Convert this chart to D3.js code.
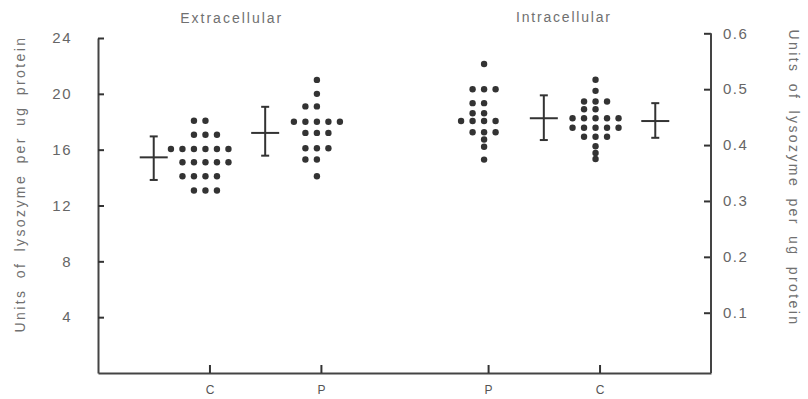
<!DOCTYPE html>
<html>
<head>
<meta charset="utf-8">
<script src="https://cdn.jsdelivr.net/npm/d3@7"></script>
<style>
  body { margin: 0; background: #fff; }
  svg { display: block; font-family: "Liberation Sans", Arial, sans-serif; }
  .lbl { fill: #707070; }
</style>
</head>
<body>
<svg width="808" height="399"></svg>
<script>
// categories along the x axis (position in group units)
var categories = ["C", "P", "P", "C"];
var catPos = [1, 2, 3.5, 4.5];
var panels = ["Extracellular", "Intracellular"];
var panelPos = [1.2, 4.18];

// left axis (extracellular) and right axis (intracellular) ticks
var leftTicks = [4, 8, 12, 16, 20, 24];
var rightTicks = [0.1, 0.2, 0.3, 0.4, 0.5, 0.6];

// individual points, one value per dot
var extraC = [18.07, 18.07, 17.07, 17.07, 17.07, 16.05, 16.05, 16.05, 16.05, 16.05, 16.05,
  15.1, 15.1, 15.1, 15.1, 15.1, 14.1, 14.1, 14.1, 14.1, 13.07, 13.07, 13.07];
var extraP = [21.0, 20.0, 19.1, 19.1, 18.0, 18.0, 18.0, 18.0, 18.0, 17.2, 17.2, 17.2,
  16.1, 16.1, 16.1, 15.3, 15.3, 14.1];
var intraP = [0.545, 0.50, 0.50, 0.50, 0.475, 0.475, 0.457, 0.457, 0.443, 0.443, 0.443, 0.443,
  0.423, 0.423, 0.423, 0.410, 0.397, 0.374];
var intraC = [0.517, 0.497, 0.478, 0.478, 0.478, 0.464, 0.464, 0.448, 0.448, 0.448, 0.448, 0.448,
  0.431, 0.431, 0.431, 0.431, 0.431, 0.415, 0.415, 0.415, 0.398, 0.386, 0.375];

// mean and range bars: [mean, upper, lower]
var extraCBar = [15.45, 16.95, 13.83];
var extraPBar = [17.2, 19.07, 15.57];
var intraPBar = [0.448, 0.489, 0.409];
var intraCBar = [0.443, 0.475, 0.413];
var barPos = [0.5, 1.5, 4, 5];

var svg = d3.select("svg");
var x = d3.scaleLinear().domain([0, 5.5]).range([98, 711]);
var yL = d3.scaleLinear().domain([0, 24]).range([373, 38]);
var yR = d3.scaleLinear().domain([0, 0.6]).range([368.6, 33.3]);

// bottom axis
var xAxis = svg.append("g").attr("transform", "translate(0," + yL(0) + ")")
  .call(d3.axisBottom(x).tickValues(catPos)
    .tickFormat(function(d, i){ return categories[i]; })
    .tickSize(-8).tickSizeOuter(0).tickPadding(12));

// left axis
var lAxis = svg.append("g").attr("transform", "translate(" + x(0) + ",0)")
  .call(d3.axisLeft(yL).tickValues(leftTicks).tickSize(-6).tickSizeOuter(0).tickPadding(26));

// right axis
var rAxis = svg.append("g").attr("transform", "translate(" + x(5.5) + ",0)")
  .call(d3.axisRight(yR).tickValues(rightTicks).tickFormat(d3.format(".1f"))
    .tickSize(-7).tickSizeOuter(0).tickPadding(12));
rAxis.select(".domain").remove();
rAxis.append("line").attr("y1", yR(0.6)).attr("y2", yL(0)).attr("stroke", "#444").attr("stroke-width", 2);

svg.selectAll(".domain").attr("stroke", "#444").attr("stroke-width", 2);
svg.selectAll(".tick line").attr("stroke", "#333").attr("stroke-width", 2);
svg.selectAll(".tick text").attr("fill", "#666").attr("font-size", 15).attr("letter-spacing", 1.5)
  .attr("font-family", "Liberation Sans, Arial, sans-serif");
xAxis.selectAll(".tick text").attr("font-size", 12).attr("letter-spacing", 0).attr("fill", "#555");

// dots: group equal values into rows
var groups = [
  {vals: extraC, pos: catPos[0], y: yL},
  {vals: extraP, pos: catPos[1], y: yL},
  {vals: intraP, pos: catPos[2], y: yR},
  {vals: intraC, pos: catPos[3], y: yR}
];
var dots = [];
groups.forEach(function(g) {
  var rows = d3.group(g.vals, function(v){ return v; });
  rows.forEach(function(arr, v) {
    var n = arr.length;
    arr.forEach(function(d, i) {
      dots.push({cx: x(g.pos) - 4 + (i - Math.floor(n / 2)) * 11.5, cy: g.y(v)});
    });
  });
});
svg.append("g").selectAll("circle").data(dots).enter().append("circle")
  .attr("cx", function(d){ return d.cx; })
  .attr("cy", function(d){ return d.cy; })
  .attr("r", 3.2)
  .attr("fill", "#333");

// mean / range bars
var bars = [
  {b: extraCBar, pos: barPos[0], y: yL},
  {b: extraPBar, pos: barPos[1], y: yL},
  {b: intraPBar, pos: barPos[2], y: yR},
  {b: intraCBar, pos: barPos[3], y: yR}
];
var bg = svg.append("g").attr("stroke", "#333").attr("stroke-width", 2);
bars.forEach(function(d) {
  var cx = x(d.pos);
  bg.append("line").attr("x1", cx).attr("x2", cx).attr("y1", d.y(d.b[1])).attr("y2", d.y(d.b[2]));
  bg.append("line").attr("x1", cx - 4).attr("x2", cx + 4).attr("y1", d.y(d.b[1])).attr("y2", d.y(d.b[1]));
  bg.append("line").attr("x1", cx - 4).attr("x2", cx + 4).attr("y1", d.y(d.b[2])).attr("y2", d.y(d.b[2]));
  bg.append("line").attr("x1", cx - 14).attr("x2", cx + 14).attr("y1", d.y(d.b[0])).attr("y2", d.y(d.b[0]));
});

// panel titles
svg.append("text").attr("class", "lbl").attr("x", x(panelPos[0])).attr("y", 23)
  .attr("text-anchor", "middle").attr("font-size", 14).attr("letter-spacing", 2).text(panels[0]);
svg.append("text").attr("class", "lbl").attr("x", x(panelPos[1])).attr("y", 22)
  .attr("text-anchor", "middle").attr("font-size", 14).attr("letter-spacing", 1.8).text(panels[1]);

// axis titles
var yTitle = "Units of lysozyme per ug protein";
svg.append("text").attr("class", "lbl").attr("transform", "translate(25,184) rotate(-90)")
  .attr("text-anchor", "middle").attr("font-size", 14).attr("letter-spacing", 2.4)
  .attr("word-spacing", 4).text(yTitle);
svg.append("text").attr("class", "lbl").attr("transform", "translate(789,178) rotate(90)")
  .attr("text-anchor", "middle").attr("font-size", 14).attr("letter-spacing", 2.4)
  .attr("word-spacing", 4).text(yTitle);
</script>
</body>
</html>
